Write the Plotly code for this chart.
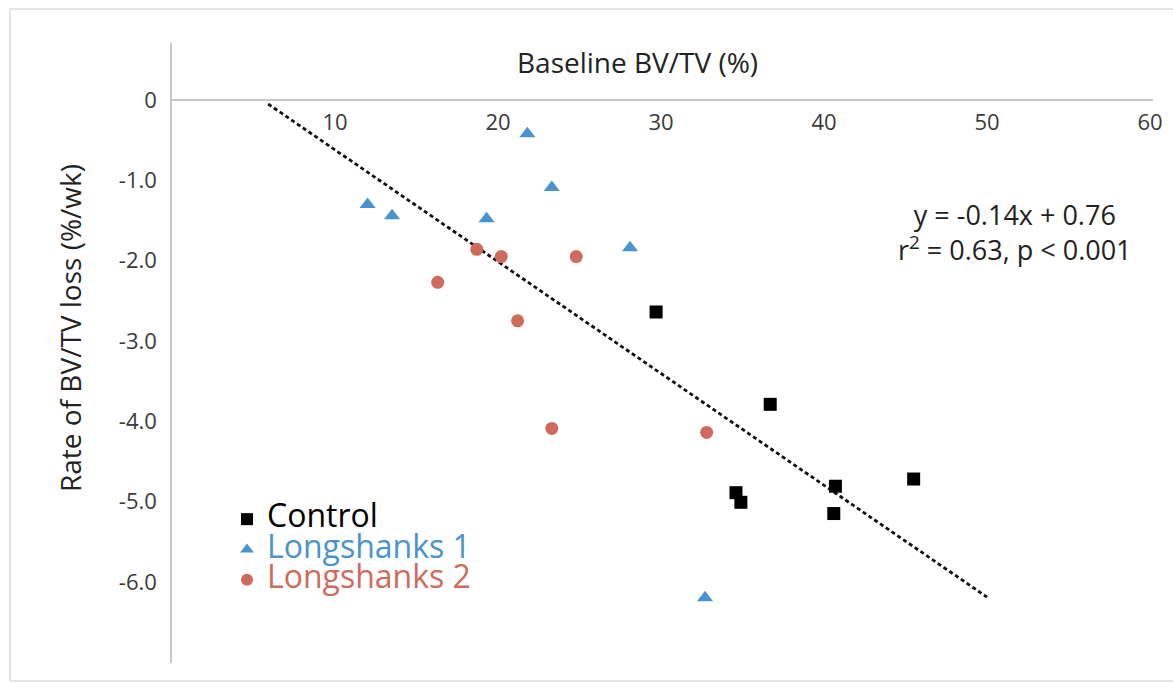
import plotly.graph_objects as go

# ---------------- data ----------------
control_x = [29.7, 36.7, 34.6, 34.9, 40.7, 40.6, 45.5]
control_y = [-2.64, -3.79, -4.89, -5.01, -4.81, -5.15, -4.72]

ls1_x = [21.8, 23.3, 12.0, 13.5, 19.3, 28.1, 32.7]
ls1_y = [-0.42, -1.09, -1.30, -1.44, -1.48, -1.84, -6.20]

ls2_x = [18.7, 20.2, 24.8, 16.3, 21.2, 23.3, 32.8]
ls2_y = [-1.86, -1.95, -1.95, -2.27, -2.75, -4.09, -4.14]

trend_x = [5.9, 50.0]
trend_y = [-0.05, -6.19]

x_tick_vals = [10, 20, 30, 40, 50, 60]
y_tick_vals = [0, -1, -2, -3, -4, -5, -6]
y_tick_text = ["0", "-1.0", "-2.0", "-3.0", "-4.0", "-5.0", "-6.0"]

series_names = ["Control", "Longshanks 1", "Longshanks 2"]
series_colors = ["#000000", "#4a93cc", "#cf6b5d"]

x_title = "Baseline BV/TV (%)"
y_title = "Rate of BV/TV loss (%/wk)"
eq_text = "y = -0.14x + 0.76<br>r<sup>2</sup> = 0.63, p &lt; 0.001"

# ---------------- layout geometry ----------------
W, H = 1173, 683
L, R, T, B = 172, 20, 43, 20
PW, PH = W - L - R, H - T - B
X_RANGE = [0, PW / 16.3]
Y_RANGE = [-(H - B - 100) / 80.3, (100 - T) / 80.3]


def px_x(px):
    return (px - L) / PW


def px_y(py):
    return (H - B - py) / PH


FONT = "Open Sans, Noto Sans, DejaVu Sans, sans-serif"
FRAME = dict(color="#dcdcdc", width=1.5)

fig = go.Figure()

fig.add_trace(go.Scatter(
    x=trend_x, y=trend_y, mode="lines", showlegend=False, hoverinfo="skip",
    line=dict(color="#111111", width=2.8, dash="4px,3px"),
))

marker_specs = [
    (control_x, control_y, "square", 13),
    (ls1_x, ls1_y, "triangle-up", 14),
    (ls2_x, ls2_y, "circle", 13),
]
for (xs, ys, sym, size), name, col in zip(marker_specs, series_names, series_colors):
    fig.add_trace(go.Scatter(
        x=xs, y=ys, mode="markers",
        name=f'<span style="font-size:32px;color:{col}">{name}</span>',
        marker=dict(symbol=sym, size=size, color=col, line=dict(width=0)),
    ))

fig.update_layout(
    width=W, height=H,
    margin=dict(l=L, r=R, t=T, b=B, autoexpand=False),
    paper_bgcolor="white", plot_bgcolor="white",
    font=dict(family=FONT, color="#333333"),
    xaxis=dict(
        range=X_RANGE, anchor="free",
        position=(0 - Y_RANGE[0]) / (Y_RANGE[1] - Y_RANGE[0]),
        side="bottom", showline=True, linecolor="#c8c8c8", linewidth=1.5,
        ticks="", tickvals=x_tick_vals, ticklabelstandoff=3,
        tickfont=dict(size=22, color="#3a3a3a"),
        showgrid=False, zeroline=False,
    ),
    yaxis=dict(
        range=Y_RANGE, showline=True, linecolor="#c8c8c8", linewidth=1.5,
        ticks="", tickvals=y_tick_vals, ticktext=y_tick_text,
        ticklabelstandoff=9, tickfont=dict(size=22, color="#3a3a3a"),
        showgrid=False, zeroline=False,
    ),
    legend=dict(
        x=px_x(227), y=px_y(499), xanchor="left", yanchor="top",
        font=dict(size=21, family=FONT), bgcolor="rgba(0,0,0,0)",
        itemsizing="constant", tracegroupgap=0,
    ),
    shapes=[
        dict(type="line", xref="paper", yref="paper", layer="below",
             x0=px_x(10), x1=px_x(1173), y0=px_y(9), y1=px_y(9), line=FRAME),
        dict(type="line", xref="paper", yref="paper", layer="below",
             x0=px_x(10), x1=px_x(10), y0=px_y(9), y1=px_y(681), line=FRAME),
        dict(type="line", xref="paper", yref="paper", layer="below",
             x0=px_x(10), x1=px_x(1173), y0=px_y(681), y1=px_y(681), line=FRAME),
    ],
    annotations=[
        dict(text=x_title, xref="paper", yref="paper", x=px_x(637), y=px_y(62),
             xanchor="center", yanchor="middle", showarrow=False,
             font=dict(size=28, color="#222222")),
        dict(text=y_title, xref="paper", yref="paper", x=px_x(70), y=px_y(328),
             xanchor="center", yanchor="middle", showarrow=False, textangle=-90,
             font=dict(size=28, color="#222222")),
        dict(text=eq_text, xref="paper", yref="paper", x=px_x(1015), y=px_y(232),
             xanchor="center", yanchor="middle", showarrow=False, align="center",
             font=dict(size=27, color="#222222")),
    ],
)

fig.write_html("out.html", post_script="document.body.style.margin='0';",
               config={"displayModeBar": False})
